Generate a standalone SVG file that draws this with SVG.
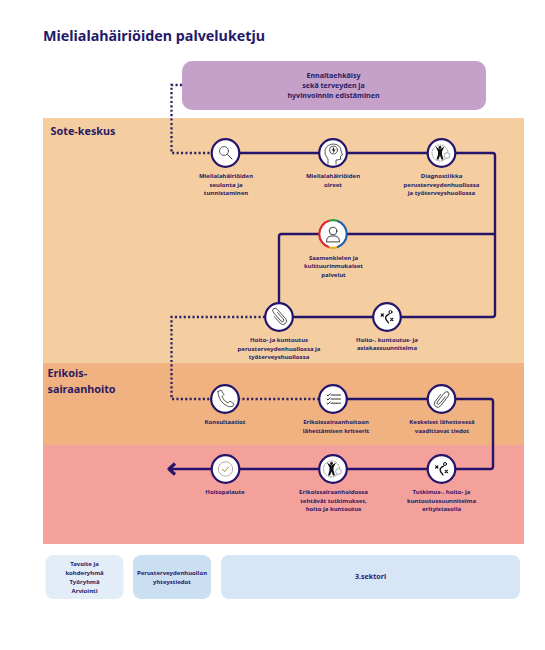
<svg xmlns="http://www.w3.org/2000/svg" width="545" height="650" viewBox="0 0 545 650">
<defs>
<path id="clip" class="i" d="M-3.500 -3V6Q-3.500 9.500 0 9.500Q3.500 9.500 3.500 6V-6Q3.500 -9.500 1 -9.500Q-1.500 -9.500 -1.500 -6V4.500Q-1.500 6.500 0 6.500Q1.500 6.500 1.500 4.500V-4"/>
<g id="cross"><circle class="i" cx="3.500" cy="-5" r="1.500" style="stroke-width:1;stroke:#111"/><path class="i" d="M2 -2.800Q-2.500 -0.500 -1 2.500L1.500 5.800" style="stroke-width:1.300;stroke:#111"/><path class="i" d="M-5.800 -3.200L-3.600 -1M-3.600 -3.200L-5.800 -1M3.700 1.300L5.900 3.500M5.900 1.300L3.700 3.500" style="stroke-width:1.200;stroke:#111"/></g>
<g id="man"><circle class="k" cx="-1" cy="-5.500" r="1.400"/><path class="k" d="M-5.500 -6.500L-1 -3.500L3.500 -6.500L1 -1.500V1.500L2.500 6.500H0.500L-1 2.500L-2.500 6.500H-4.500L-3 1.500V-1.500Z"/><circle class="i" cx="-1" cy="0" r="8" stroke-dasharray="1 1.500" style="stroke-width:.5"/><circle cx="6" cy="2.500" r="2.800" fill="#fff" stroke="#789" stroke-width=".7"/></g>
</defs>
<style>
text{font-family:"Noto Sans","Open Sans",sans-serif;font-weight:700;fill:#2a1a66;text-anchor:middle}
.l{font-size:6px}
.b{font-size:7.100px}
.h{font-size:10.800px;text-anchor:start;fill:#2c1a63}
.line{fill:none;stroke:#24146a;stroke-width:2.400;stroke-linejoin:round}
.dot{fill:none;stroke:#2c2160;stroke-width:2.300;stroke-dasharray:2.100 2.300}
.c{fill:#fff;stroke:#24146a;stroke-width:2.200}
.i{fill:none;stroke:#333;stroke-width:.8;stroke-linecap:round;stroke-linejoin:round}
.k{fill:#111}
</style>
<rect width="545" height="650" fill="#fff"/>
<text x="43" y="41" style="font-size:14.300px;text-anchor:start;fill:#241a68">Mielialahäiriöiden palveluketju</text>
<g id="bands">
<rect x="43" y="118" width="481" height="245" fill="#f4cda0"/>
<rect x="43" y="363" width="481" height="82" fill="#efb280"/>
<rect x="43" y="445" width="481" height="99" fill="#f4a19c"/>
<text class="h" x="50.500" y="134.500">Sote-keskus</text>
<text class="h" x="47.500" y="377">Erikois-</text>
<text class="h" x="47.500" y="392.500">sairaanhoito</text>
</g>
<g id="prevention">
<rect x="182" y="61" width="304" height="49" rx="10" fill="#c5a1c9"/>
<text class="b" x="333.500" y="78">Ennaltaehkäisy</text>
<text class="b" x="333.500" y="88">sekä terveyden ja</text>
<text class="b" x="333.500" y="98">hyvinvoinnin edistäminen</text>
</g>
<g id="connectors">
<path class="line" d="M226 153H492.500Q495 153 495 155.500V314.500Q495 317 492.500 317H279"/>
<path class="line" d="M495 234H281.500Q279 234 279 236.500V317"/>
<path class="line" d="M333 399H490.500Q493 399 493 401.500V466.500Q493 469 490.500 469H170"/>
<path class="line" d="M175 463.500L169 469L175 474.500" style="stroke-width:3.200"/>
<path class="dot" d="M182 85H171.500V153H212"/>
<path class="dot" d="M265 317H171.500V399H320"/>
</g>
<g id="n1"><circle class="c" cx="225.500" cy="153" r="13.800"/><circle class="i" cx="224" cy="151" r="4.500"/><path class="i" d="M227.500 154.500L232 159" style="stroke-width:1"/>
<text class="l" x="226" y="178">Mielialahäiriöiden</text><text class="l" x="226" y="186.500">seulonta ja</text><text class="l" x="226" y="195">tunnistaminen</text></g>
<g id="n2"><circle class="c" cx="333" cy="153" r="13.800"/><path class="i" d="M328 164V159Q324 155 325 150Q327 144 334 144Q341 145 341 151L342.500 155L340.500 156V159.500L336 160V164"/><circle class="i" cx="333.500" cy="150" r="4"/><path class="k" d="M334 146.500L332 150.500H333.500L333 153.500L335.500 149.500H334Z"/>
<text class="l" x="333" y="178">Mielialahäiriöiden</text><text class="l" x="333" y="186.500">oireet</text></g>
<g id="n3"><circle class="c" cx="441.500" cy="153" r="13.800"/><use href="#man" x="441" y="153"/>
<text class="l" x="441.500" y="178">Diagnostiikka</text><text class="l" x="441.500" y="186.500">perusterveydenhuollossa</text><text class="l" x="441.500" y="195">ja työterveyshuollossa</text></g>
<g id="n4"><circle cx="333" cy="234" r="13.800" fill="#fff"/>
<path d="M337 220.800A13.800 13.800 0 0 1 337 247.200" fill="none" stroke="#1f5fb0" stroke-width="2.200"/>
<path d="M337 247.200A13.800 13.800 0 0 1 329 247.200" fill="none" stroke="#e8b020" stroke-width="2.200"/>
<path d="M329 247.200A13.800 13.800 0 0 1 329 220.800" fill="none" stroke="#d8262c" stroke-width="2.200"/>
<path d="M329 220.800A13.800 13.800 0 0 1 337 220.800" fill="none" stroke="#3a9a44" stroke-width="2.200"/>
<circle class="i" cx="333" cy="231" r="3.800" style="stroke:#111"/><path class="i" d="M326.500 241.500Q326.500 236.500 331 236H335Q339.500 236.500 339.500 241.500Z" style="stroke:#111"/>
<text class="l" x="333.500" y="259.500">Saamenkielen ja</text><text class="l" x="333.500" y="268">kulttuurinmukaiset</text><text class="l" x="333.500" y="276.500">palvelut</text></g>
<g id="n5"><circle class="c" cx="279" cy="317" r="13.800"/><use href="#clip" transform="translate(279 316.500) rotate(-42)"/>
<text class="l" x="279" y="342">Hoito- ja kuntoutus</text><text class="l" x="279" y="350.500">perusterveydenhuollossa ja</text><text class="l" x="279" y="359">työterveyshuollossa</text></g>
<g id="n6"><circle class="c" cx="387" cy="317" r="13.800"/><use href="#cross" x="387" y="317"/>
<text class="l" x="387" y="341.500">Hoito-, kuntoutus- ja</text><text class="l" x="387" y="350">asiakassuunnitelma</text></g>
<g id="n7"><circle class="c" cx="225" cy="399" r="13.800"/><path class="i" d="M218 391.500L221 390L224 394.500L222 396.500Q223.500 401 228 403L230 401L234 404L232.500 406.500Q229 408 224 404Q218 399 218 391.500Z"/>
<text class="l" x="225" y="424">Konsultaatiot</text></g>
<g id="n8"><circle class="c" cx="333" cy="399" r="13.800"/><path class="i" d="M331 395H340.500M331 399H340.500M331 403.200H340.500M327 395L328 396L330 393.800M327 399L328 400L330 397.800M327 403.200L328 404.200L330 402" style="stroke-width:1"/>
<text class="l" x="336" y="424">Erikoissairaanhoitoon</text><text class="l" x="336" y="432.500">lähettämisen kriteerit</text></g>
<g id="n9"><circle class="c" cx="441.500" cy="399" r="13.800"/><use href="#clip" transform="translate(441.500 399) rotate(38)"/>
<text class="l" x="442" y="424">Keskeiset lähetteessä</text><text class="l" x="442" y="432.500">vaadittavat tiedot</text></g>
<g id="n10"><circle class="c" cx="225.500" cy="469" r="13.800"/><circle cx="225.500" cy="469" r="7.200" fill="none" stroke="#777" stroke-width=".6"/><path d="M222 469L224.800 471.500L229 466.500" fill="none" stroke="#8a6a20" stroke-width=".8"/>
<text class="l" x="225" y="494">Hoitopalaute</text></g>
<g id="n11"><circle class="c" cx="333" cy="469" r="13.800"/><use href="#man" x="332.500" y="469"/>
<text class="l" x="333.500" y="494">Erikoissairaanhoidossa</text><text class="l" x="333.500" y="502.500">tehtävät tutkimukset,</text><text class="l" x="333.500" y="511">hoito ja kuntoutus</text></g>
<g id="n12"><circle class="c" cx="441.500" cy="469" r="13.800"/><use href="#cross" x="441.500" y="469"/>
<text class="l" x="441.500" y="494">Tutkimus-, hoito- ja</text><text class="l" x="441.500" y="502.500">kuntoutussuunnitelma</text><text class="l" x="441.500" y="511">erityistasolla</text></g>
<g id="b1"><rect x="45.500" y="555" width="78" height="44" rx="8" fill="#e3edf7"/>
<text class="l" x="84.500" y="566">Tavoite ja</text><text class="l" x="84.500" y="575">kohderyhmä</text><text class="l" x="84.500" y="584">Työryhmä</text><text class="l" x="84.500" y="593">Arviointi</text></g>
<g id="b2"><rect x="133" y="555" width="78" height="44" rx="8" fill="#cbdff2"/>
<text class="l" x="172" y="575">Perusterveydenhuollon</text><text class="l" x="172" y="584">yhteystiedot</text></g>
<g id="b3"><rect x="221" y="555" width="299" height="44" rx="8" fill="#d6e6f6"/>
<text class="b" x="370.500" y="579">3.sektori</text></g>
</svg>
